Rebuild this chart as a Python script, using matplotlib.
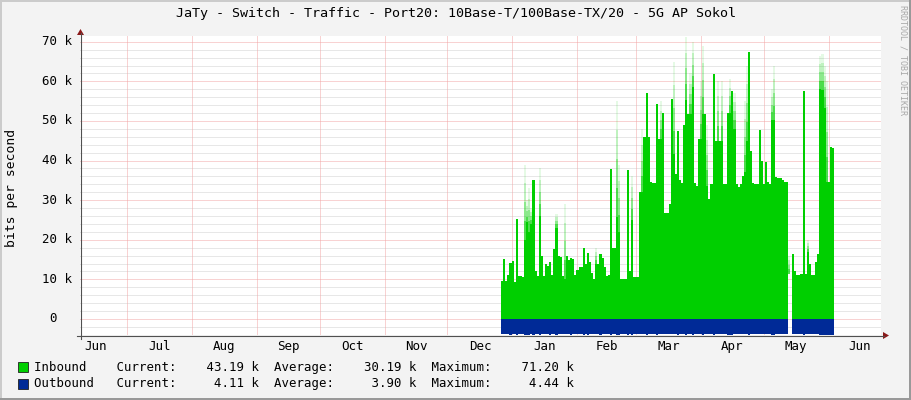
import numpy as np
import matplotlib
matplotlib.use("Agg")
import matplotlib.pyplot as plt
import matplotlib.dates as mdates
import matplotlib.transforms as mtrans
from matplotlib.patches import Polygon, Rectangle
from matplotlib.lines import Line2D

W, H = 911, 400
nan = np.nan

title = "JaTy - Switch - Traffic - Port20: 10Base-T/100Base-TX/20 - 5G AP Sokol"
ylabel = "bits per second"

# daily samples (k bits/s), first sample starts 2012-12-26 14:00
inbound = [9.6, 15.2, 9.6, 11.0, 14.2, 14.6, 9.3, 25.3, 10.8, 10.8,
           10.5, 20.0, 24.5, 22.0, 24.0, 35.0, 12.0, 10.8, 26.0, 16.0,
           10.8, 14.0, 13.5, 14.4, 11.0, 17.7, 23.0, 16.0, 15.6, 10.8,
           10.2, 16.0, 14.8, 15.5, 15.2, 11.0, 12.3, 13.0, 13.0, 18.0,
           14.0, 16.6, 14.4, 11.6, 10.2, 14.0, 14.0, 16.3, 15.5, 13.0,
           10.8, 11.0, 37.9, 18.0, 18.0, 25.7, 22.0, 10.2, 10.2, 10.0,
           37.6, 12.0, 25.0, 10.5, 10.5, 10.5, 32.0, 32.0, 46.0, 57.0,
           46.0, 34.5, 34.3, 34.3, 54.3, 45.5, 45.5, 52.0, 26.7, 26.7,
           29.0, 55.5, 41.7, 36.6, 47.5, 35.0, 34.3, 49.0, 55.4, 51.8,
           51.8, 58.5, 34.3, 33.7, 45.5, 45.5, 51.8, 51.8, 33.7, 30.3,
           34.0, 61.8, 45.0, 45.0, 45.0, 45.0, 34.0, 34.0, 52.0, 52.0,
           57.6, 48.0, 34.0, 33.3, 34.0, 36.0, 37.0, 45.0, 67.3, 42.5,
           34.3, 34.0, 34.0, 47.6, 40.0, 34.0, 39.6, 34.5, 34.0, 50.3,
           50.3, 35.8, 35.5, 35.5, 35.0, 34.5, 34.5, 11.4, nan, 16.5,
           12.0, 11.2, 11.2, 11.4, 57.6, 11.4, 17.0, 14.0, 11.0, 11.0,
           14.5, 16.5, 58.0, 57.9, 53.4, 34.5, 34.5, 43.4, 43.2]

outbound = [3.8, 3.9, 3.8, 3.9, 4.0, 3.9, 3.8, 4.1, 3.9, 3.8,
            3.9, 4.0, 4.1, 4.0, 3.9, 4.2, 3.9, 3.8, 4.1, 3.9,
            3.8, 3.9, 3.9, 4.0, 3.8, 3.9, 4.0, 3.9, 3.9, 3.8,
            3.8, 3.9, 3.9, 4.0, 3.9, 3.8, 3.9, 3.9, 3.9, 4.0,
            3.9, 4.0, 3.9, 3.8, 3.8, 3.9, 3.9, 4.0, 3.9, 3.9,
            3.8, 3.8, 4.2, 3.9, 3.9, 4.0, 4.0, 3.8, 3.8, 3.8,
            4.2, 3.9, 4.0, 3.8, 3.8, 3.8, 3.9, 3.9, 3.9, 4.1,
            3.9, 3.9, 3.9, 3.9, 4.0, 3.9, 3.9, 3.9, 3.8, 3.8,
            3.8, 3.9, 3.9, 3.9, 4.0, 3.9, 3.9, 3.9, 4.0, 3.9,
            3.9, 4.0, 3.9, 3.9, 3.9, 3.9, 4.0, 3.9, 3.8, 3.8,
            3.9, 4.0, 3.9, 3.9, 3.9, 3.9, 3.9, 3.9, 4.1, 4.3,
            4.0, 3.9, 3.9, 3.8, 3.9, 3.9, 3.9, 3.9, 4.0, 3.9,
            3.9, 3.9, 3.9, 3.9, 3.9, 3.9, 3.9, 3.8, 3.9, 4.0,
            4.0, 3.9, 3.9, 3.9, 3.9, 3.9, 3.9, 3.8, nan, 3.9,
            3.8, 3.8, 3.8, 3.8, 4.0, 3.8, 3.9, 3.9, 3.8, 3.8,
            3.9, 3.9, 4.0, 4.0, 4.0, 4.1, 4.1, 4.1, 4.11]

# short peaks above the daily value (drawn faded)
peak_days = [11, 12, 13, 14, 18, 26, 30, 45, 55, 56, 62, 67, 76, 82, 88, 90,
             91, 95, 96, 98, 103, 105, 109, 111, 116, 117, 129, 130, 137, 146,
             152, 153, 154, 155]
peak_vals = [39, 30, 33, 28, 38, 26.5, 29, 18, 55, 39, 36, 48, 55, 65, 71.2, 62,
             70, 60, 69, 49, 60, 60, 60.5, 57, 55, 64, 58, 64, 16, 20,
             66.5, 67, 64, 60]

legend_rows = [("Inbound", "#00CF00", "43.19 k", "30.19 k", "71.20 k"),
               ("Outbound", "#002A97", "4.11 k", "3.90 k", "4.44 k")]

month_names = ["Jun", "Jul", "Aug", "Sep", "Oct", "Nov", "Dec",
               "Jan", "Feb", "Mar", "Apr", "May", "Jun"]
month_starts = np.arange(np.datetime64("2012-06"), np.datetime64("2013-08"),
                         np.timedelta64(1, "M")).astype("datetime64[D]")

yticks = [0, 10, 20, 30, 40, 50, 60, 70]

# ---------------------------------------------------------------------------
BG = "#F3F3F3"
MONO = "DejaVu Sans Mono"

def fx(x):
    return x / W

def fy(y):
    return 1 - y / H

fig = plt.figure(figsize=(W / 100, H / 100), dpi=100, facecolor=BG)
# whole-pixel axes box so the 1px dotted grid stays crisp
left, right, top, bottom = 80, 881, 36, 335
ax = fig.add_axes([fx(left), fy(bottom), fx(right - left), (bottom - top) / H])
ax.set_facecolor("white")
for s in ax.spines.values():
    s.set_visible(False)
ax.set_xticks([])
ax.set_yticks([])

start = np.datetime64("2012-12-26T14:00")
t = start + np.arange(len(inbound) + 1) * np.timedelta64(1, "D")
tn = mdates.date2num(t.astype("datetime64[s]").astype(object))
inb = np.array(inbound + [inbound[-1]])
outb = -np.array(outbound + [outbound[-1]])

ymin, ymax = -4.05, 71.46
xmin = mdates.date2num(np.datetime64("2012-06-08T12:00").astype(object))
xmax = mdates.date2num(np.datetime64("2013-06-26T01:00").astype(object))
ax.set_xlim(xmin, xmax)
ax.set_ylim(ymin, ymax)

# grid
dot = (0, (1, 1))
for v in np.arange(-4, 71, 2):
    if v % 10 != 0:
        ax.axhline(v, color="#D0D0D0", lw=0.72, ls=dot, zorder=0)
for v in yticks:
    ax.axhline(v, color="#F2A6A6", lw=0.72, ls=dot, zorder=0)
ms_num = [mdates.date2num(d.astype(object)) for d in month_starts]
for m in ms_num:
    if xmin < m < xmax:
        ax.axvline(m, color="#F2A6A6", lw=0.72, ls=dot, zorder=0)

# data
ax.fill_between(tn, 0, inb, step="post", color="#00CF00", lw=0, zorder=2,
                antialiased=False)
ax.fill_between(tn, 0, outb, step="post", color="#002A97", lw=0, zorder=2,
                antialiased=False)
alphas = [0.7, 0.45, 0.25, 0.1]
for d, pv in zip(peak_days, peak_vals):
    base = inbound[d]
    seg = (pv - base) / len(alphas)
    for i, a in enumerate(alphas):
        ax.bar(tn[d], seg, width=1.0, bottom=base + i * seg, align="edge",
               color="#00CF00", alpha=a, lw=0, zorder=1.5, antialiased=False)

# axes lines and arrows (figure pixels)
def px_line(x0, y0, x1, y1, color, lw=1.0):
    fig.add_artist(Line2D([fx(x0), fx(x1)], [fy(y0), fy(y1)],
                          color=color, lw=lw, transform=fig.transFigure))

def px_poly(pts, color):
    fig.add_artist(Polygon([(fx(a), fy(b)) for a, b in pts], closed=True,
                           color=color, lw=0, transform=fig.transFigure))

px_line(76.5, 335.5, 884, 335.5, "#505050", 0.8)
px_line(80.5, 339, 80.5, 33, "#505050", 0.8)
px_poly([(883, 332), (889, 335.5), (883, 339)], "#8B1A1A")
px_poly([(77, 35), (80.5, 29), (84, 35)], "#8B1A1A")

# y tick labels
ytr = mtrans.blended_transform_factory(fig.transFigure, ax.transData)
for v in yticks:
    if v == 0:
        fig.text(fx(56.5), v, "0", transform=ytr, ha="right", va="center",
                 family=MONO, fontsize=9)
    else:
        fig.text(fx(71.5), v, f"{v} k", transform=ytr, ha="right",
                 va="center", family=MONO, fontsize=9)

# x month labels (centred in each month)
xtr = mtrans.blended_transform_factory(ax.transData, fig.transFigure)
for name, a, b in zip(month_names, ms_num[:-1], ms_num[1:]):
    fig.text((a + b) / 2, fy(346.5), name, transform=xtr, ha="center",
             va="center", family=MONO, fontsize=9)

fig.text(0.5, fy(13), title, ha="center", va="center",
         family=MONO, fontsize=9.6)
fig.text(fx(12), fy(188), ylabel, rotation=90, ha="center", va="center",
         family=MONO, fontsize=9.4)
fig.text(fx(903.5), fy(60), "RRDTOOL / TOBI OETIKER", rotation=270,
         ha="center", va="center", family=MONO, fontsize=6, color="#A8A8A8")

# legend
for i, (name, col, cur, avg, mx) in enumerate(legend_rows):
    yc = 367 + i * 17
    fig.add_artist(Rectangle((fx(17.5), fy(yc + 5)), 10 / W, 10 / H,
                             facecolor=col, edgecolor="#202020", lw=0.6,
                             transform=fig.transFigure))
    line = f"{name:<11s}Current:{cur:>11s}  Average:{avg:>11s}  Maximum:{mx:>11s}"
    fig.text(fx(33.5), fy(yc), line, ha="left", va="center", family=MONO,
             fontsize=8.9)

# 3d-ish border
fig.add_artist(Rectangle((0, 0), 2 / W, 1, color="#CBCBCB", lw=0, transform=fig.transFigure))
fig.add_artist(Rectangle((0, 1 - 2 / H), 1, 2 / H, color="#CBCBCB", lw=0, transform=fig.transFigure))
fig.add_artist(Rectangle((1 - 2 / W, 0), 2 / W, 1, color="#999999", lw=0, transform=fig.transFigure))
fig.add_artist(Rectangle((0, 0), 1, 2 / H, color="#999999", lw=0, transform=fig.transFigure))

fig.savefig("out.png", dpi=100, facecolor=BG)
